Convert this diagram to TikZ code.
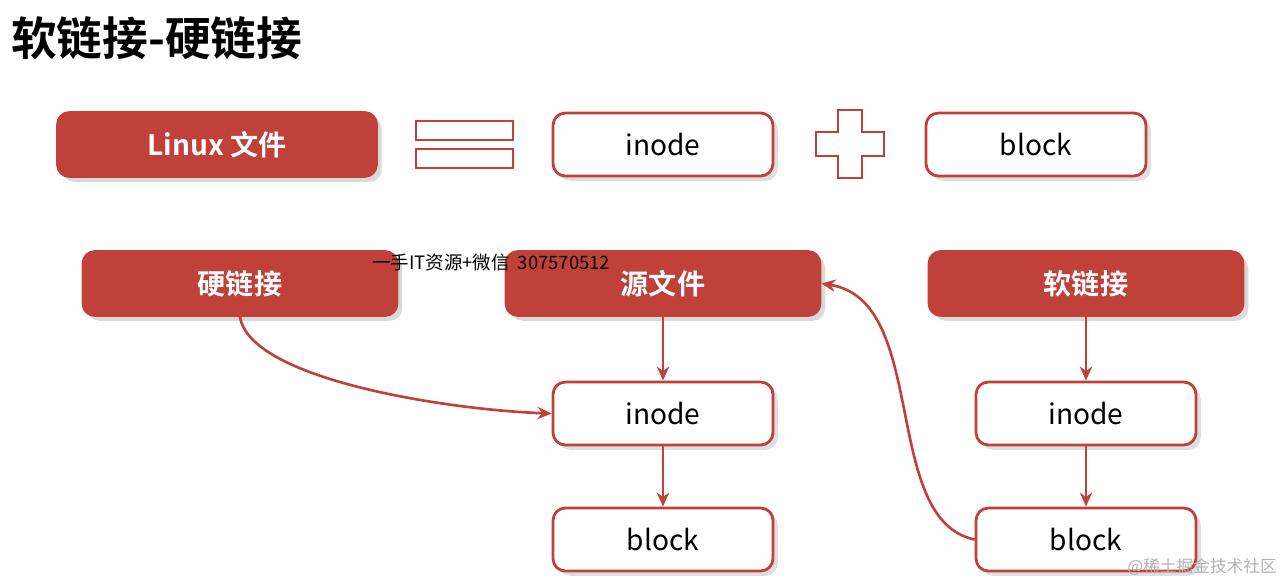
\documentclass[tikz,border=0pt]{standalone}
\usepackage{fontspec}
\setmainfont{Noto Sans CJK SC}
\newfontfamily\cjkb{Noto Sans CJK SC Bold}
\usetikzlibrary{shadows,arrows.meta}
\definecolor{rd}{HTML}{C0403A}
\begin{document}
\begin{tikzpicture}[x=0.02cm,y=-0.02cm,
 fbox/.style={draw=rd,fill=rd,rounded corners=7pt,line width=1pt,minimum width=6.3cm,minimum height=1.3cm,text=white,font=\cjkb\fontsize{16}{16}\selectfont,drop shadow={opacity=0.3}},
 obox/.style={draw=rd,fill=white,rounded corners=7pt,line width=1.6pt,minimum width=4.4cm,minimum height=1.26cm,font=\fontsize{16}{16}\selectfont,drop shadow={opacity=0.25}},
 arr/.style={draw=rd,line width=1.5pt,-{Stealth[length=8pt,width=7pt]}}]
\useasboundingbox (0,0) rectangle (1287,583);
\node[anchor=west,font=\cjkb\fontsize{26}{26}\selectfont] (title) at (5,38) {软链接-硬链接};
\node[fbox,minimum width=6.4cm] (linux) at (217,144.5) {Linux 文件};
\draw[rd,line width=1.5pt,fill=white] (416,121) rectangle (513,140) (416,149) rectangle (513,168);
\node[obox] (i0) at (663,144.5) {inode};
\draw[rd,line width=1.6pt,fill=white] (838,110) -- (862,110) -- (862,132) -- (884,132) -- (884,156) -- (862,156) -- (862,178) -- (838,178) -- (838,156) -- (816,156) -- (816,132) -- (838,132) -- cycle;
\node[obox] (b0) at (1036,144.5) {block};
\node[fbox] (hard) at (240,283.5) {硬链接};
\node[fbox] (src) at (663,283.5) {源文件};
\node[fbox] (soft) at (1086,283.5) {软链接};
\node[obox] (i1) at (663,413.5) {inode};
\node[obox] (b1) at (663,539.5) {block};
\node[obox] (i2) at (1086,413.5) {inode};
\node[obox] (b2) at (1086,539.5) {block};
\node[anchor=west,font=\fontsize{10.5}{11}\selectfont] (wm) at (366,263) {一手IT资源+微信\ \ 307570512};
\node[anchor=east,text=gray!60,font=\fontsize{9.5}{10}\selectfont] (wm2) at (1283,567) {@稀土掘金技术社区};
\draw[arr] (src.south) -- (i1.north);
\draw[arr] (i1.south) -- (b1.north);
\draw[arr] (soft.south) -- (i2.north);
\draw[arr] (i2.south) -- (b2.north);
\draw[arr] (hard.south) .. controls (250,380) and (450,410) .. (i1.west);
\draw[arr] (b2.west) .. controls (880,520) and (930,300) .. (src.east);
\end{tikzpicture}
\end{document}
